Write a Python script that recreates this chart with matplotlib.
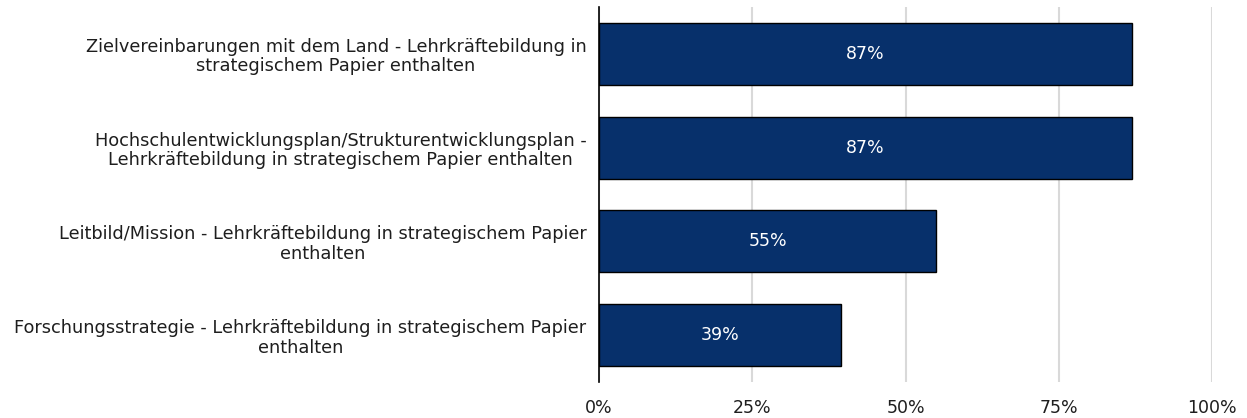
import matplotlib
matplotlib.use("Agg")
import matplotlib.pyplot as plt
from matplotlib.ticker import FuncFormatter

# categories top to bottom, shares of institutions
categories = [
    "Zielvereinbarungen mit dem Land - Lehrkräftebildung in\nstrategischem Papier enthalten",
    "Hochschulentwicklungsplan/Strukturentwicklungsplan -\nLehrkräftebildung in strategischem Papier enthalten",
    "Leitbild/Mission - Lehrkräftebildung in strategischem Papier\nenthalten",
    "Forschungsstrategie - Lehrkräftebildung in strategischem Papier\nenthalten",
]
shares = [0.87, 0.87, 0.55, 0.395]
value_labels = ["87%", "87%", "55%", "39%"]
x_ticks = [0, 0.25, 0.5, 0.75, 1.0]

bar_color = "#07306b"
text_color = "#1e1e1e"

plt.rcParams["font.family"] = ["DejaVu Sans"]

fig = plt.figure(figsize=(12.47, 4.18), dpi=100)
ax = fig.add_axes([599 / 1247, 1 - 382 / 418, (1212 - 599) / 1247, 375 / 418])

ypos = list(range(len(categories)))
bars = ax.barh(ypos, shares, height=0.66, color=bar_color,
               edgecolor="black", linewidth=1.0, zorder=3)

for b, lab in zip(bars, value_labels):
    ax.text(b.get_width() / 2, b.get_y() + b.get_height() / 2, lab,
            ha="center", va="center", color="white", fontsize=12.5, zorder=4)

ax.set_ylim(len(categories) - 0.5, -0.5)
ax.set_xlim(0, 1.0)
ax.set_yticks(ypos)
ax.set_yticklabels(categories, fontsize=12.8, color=text_color,
                   multialignment="center", linespacing=1.1)
ax.set_xticks(x_ticks)
ax.xaxis.set_major_formatter(FuncFormatter(lambda v, _: f"{v * 100:.0f}%"))
ax.tick_params(axis="x", length=0, pad=12, labelsize=12.5, labelcolor=text_color)
ax.tick_params(axis="y", length=0, pad=9)

ax.grid(axis="x", color="#d9d9d9", linewidth=1.5, zorder=0)
for s in ["top", "right", "bottom"]:
    ax.spines[s].set_visible(False)
ax.spines["left"].set_color("black")
ax.spines["left"].set_linewidth(1.2)
ax.spines["left"].set_zorder(5)

fig.savefig("out.png", dpi=100)
